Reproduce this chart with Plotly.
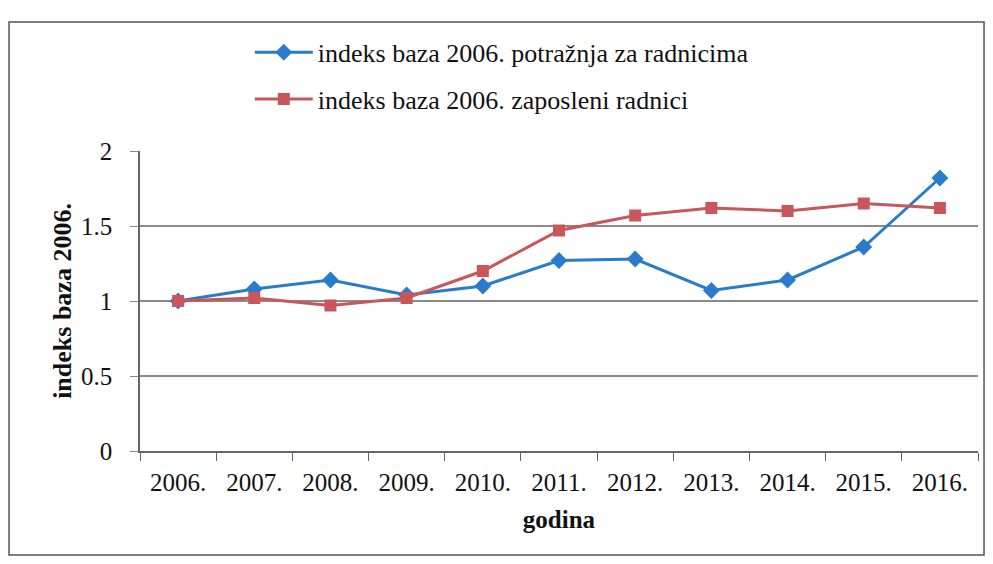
import plotly.graph_objects as go

years = ["2006.", "2007.", "2008.", "2009.", "2010.", "2011.", "2012.", "2013.", "2014.", "2015.", "2016."]
potraznja = [1.00, 1.08, 1.14, 1.04, 1.10, 1.27, 1.28, 1.07, 1.14, 1.36, 1.82]
zaposleni = [1.00, 1.02, 0.97, 1.02, 1.20, 1.47, 1.57, 1.62, 1.60, 1.65, 1.62]
y_ticks = [0, 0.5, 1, 1.5, 2]
y_labels = ["0", "0.5", "1", "1.5", "2"]

FONT = "Liberation Serif"
BLUE = "#2a7bca"
RED = "#c9565a"

fig = go.Figure()
fig.add_trace(go.Scatter(
    x=years, y=potraznja, mode="lines+markers",
    name="indeks baza 2006. potražnja za radnicima",
    line=dict(color=BLUE, width=3),
    marker=dict(symbol="diamond", size=13, color=BLUE),
    legendgroup="a",
))
fig.add_trace(go.Scatter(
    x=years, y=zaposleni, mode="lines+markers",
    name="indeks baza 2006. zaposleni radnici",
    line=dict(color=RED, width=3),
    marker=dict(symbol="square", size=12, color=RED),
    legendgroup="b",
))

fig.update_layout(
    width=977, height=548,
    margin=dict(l=132, r=7, t=143, b=105, autoexpand=False),
    paper_bgcolor="white", plot_bgcolor="white",
    font=dict(family=FONT, size=24, color="#111"),
    showlegend=True,
    legend=dict(
        x=0.131, xanchor="left", y=1.407, yanchor="top",
        font=dict(family=FONT, size=26, color="#111"),
        traceorder="grouped", tracegroupgap=10,
        itemwidth=58,
        bgcolor="rgba(0,0,0,0)",
    ),
    xaxis=dict(
        type="category", automargin=False,
        range=[-0.5, len(years) - 0.5],
        showgrid=False,
        showline=True, linecolor="#666", linewidth=1.5,
        ticks="outside", tickson="boundaries", ticklen=8, tickcolor="#666",
        ticklabelstandoff=8,
        tickfont=dict(family=FONT, size=25, color="#111"),
        title=dict(text="<b>godina</b>", font=dict(family=FONT, size=25, color="#111"), standoff=16),
    ),
    yaxis=dict(
        range=[0, 2], automargin=False,
        tickvals=y_ticks, ticktext=y_labels,
        showgrid=True, gridcolor="#8a8a8a", gridwidth=1.5,
        showline=True, linecolor="#666", linewidth=1.5,
        ticks="outside", ticklen=8, tickcolor="#8a8a8a",
        ticklabelstandoff=13,
        zeroline=False,
        tickfont=dict(family=FONT, size=25, color="#111"),
        title=dict(text="<b>indeks baza 2006.</b>", font=dict(family=FONT, size=26, color="#111"), standoff=2),
    ),
    shapes=[dict(
        type="rect", xref="paper", yref="paper",
        x0=-0.1563, x1=1.0072, y0=-0.3467, y1=1.43,
        line=dict(color="#555", width=1.5), fillcolor="rgba(0,0,0,0)",
    )],
)

fig.write_html("out.html")
